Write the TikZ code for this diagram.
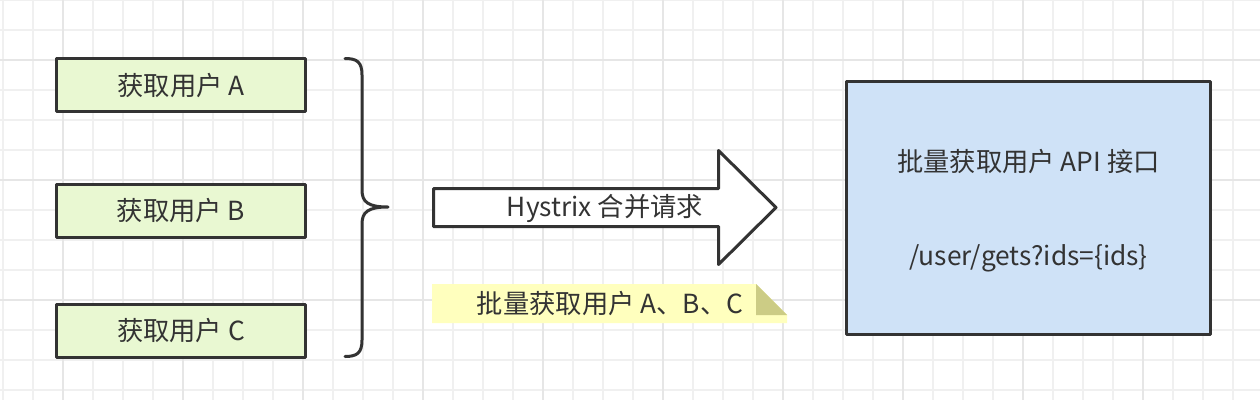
\documentclass[tikz,border=0pt]{standalone}
\usepackage{fontspec}
\setmainfont{Noto Sans CJK SC}
\definecolor{ink}{HTML}{333333}
\definecolor{txt}{HTML}{333333}
\definecolor{greenfill}{HTML}{E9F8D2}
\definecolor{bluefill}{HTML}{CFE2F7}
\definecolor{notefill}{HTML}{FFFFBE}
\definecolor{foldfill}{HTML}{CCCC85}
\definecolor{gridminor}{HTML}{F0F0F0}
\definecolor{gridmajor}{HTML}{E6E6E6}
\begin{document}
\begin{tikzpicture}[x=1pt,y=-1pt,line join=round]
\tikzset{
  minorline/.style={draw=gridminor,line width=1.5pt},
  majorline/.style={draw=gridmajor,line width=2pt},
  outline/.style={draw=ink,line width=3pt},
  label/.style={text=txt,font=\fontsize{26.3}{31}\selectfont,inner sep=0pt},
  userbox/.style={outline,fill=greenfill,minimum width=249pt,minimum height=53pt,label},
  apibox/.style={outline,fill=bluefill,minimum width=364pt,minimum height=253pt,inner sep=0pt},
}
\useasboundingbox (0,0) rectangle (1260,400);
\fill[white] (0,0) rectangle (1260,400);
% grid
\foreach \x in {3,33,...,1260} \draw[minorline] (\x,0) -- (\x,400);
\foreach \y in {0,30,...,400} \draw[minorline] (0,\y) -- (1260,\y);
\foreach \x in {63,183,...,1260} \draw[majorline] (\x,0) -- (\x,400);
\foreach \y in {60,180,300} \draw[majorline] (0,\y) -- (1260,\y);
% user boxes
\node[userbox] (a) at (181,85.3) {获取用户 A};
\node[userbox] (b) at (181,211) {获取用户 B};
\node[userbox] (c) at (181,331) {获取用户 C};
% brace
\draw[outline,line cap=round]
  (345,58.5) .. controls (357,58.5) and (362,62) .. (362,75)
  -- (362,190) .. controls (362,202) and (368,207) .. (388,207)
  .. controls (368,207) and (362,212) .. (362,224)
  -- (362,340) .. controls (362,353) and (357,356.5) .. (345,356.5);
% big arrow
\draw[outline,fill=white]
  (433.5,188.5) -- (718.5,188.5) -- (718.5,150.5) -- (776,207.5)
  -- (718.5,264.5) -- (718.5,226.5) -- (433.5,226.5) -- cycle;
\node[label] (merge) at (605,208) {Hystrix 合并请求};
% note
\fill[notefill] (432,284) -- (756,284) -- (787,315) -- (787,323) -- (432,323) -- cycle;
\fill[foldfill] (756,284) -- (756,315) -- (787,315) -- cycle;
\node[label] (note) at (610,303.5) {批量获取用户 A、B、C};
% api box
\node[apibox] (api) at (1028.5,208) {};
\node[label] (apititle) at (1028.5,162) {批量获取用户 API 接口};
\node[label] (apipath) at (1028.5,258) {/user/gets?ids=\{ids\}};
\end{tikzpicture}
\end{document}
